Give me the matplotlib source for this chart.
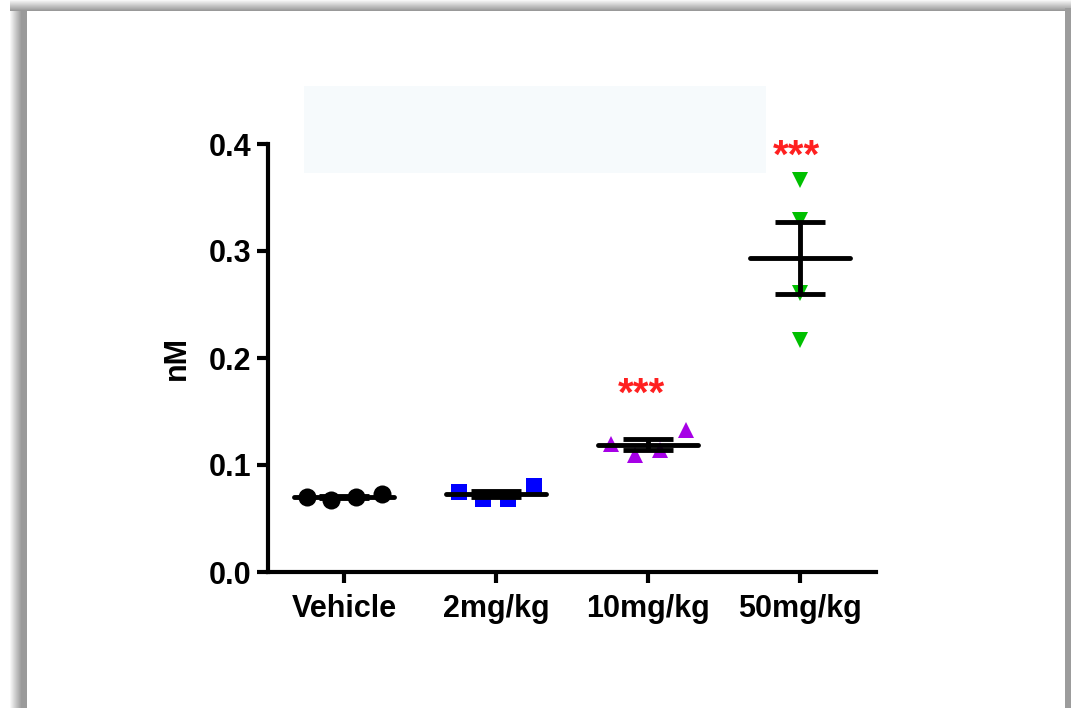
import matplotlib
matplotlib.use("Agg")
import matplotlib.pyplot as plt
import numpy as np
from matplotlib.patches import Rectangle

plt.rcParams["font.family"] = ["Liberation Sans", "DejaVu Sans"]
plt.rcParams["font.weight"] = "bold"

groups = ["Vehicle", "2mg/kg", "10mg/kg", "50mg/kg"]
vehicle = [0.070, 0.067, 0.070, 0.073]
mg2 = [0.075, 0.068, 0.068, 0.080]
mg10 = [0.120, 0.109, 0.114, 0.133]
mg50 = [0.366, 0.329, 0.261, 0.217]
values = [vehicle, mg2, mg10, mg50]
markers = ["o", "s", "^", "v"]
colors = ["#000000", "#0000ff", "#a600e6", "#00c000"]
msizes = [13, 11, 12, 12]
star_groups = [1.96, 2.98]
star_y = [0.166, 0.388]
yticks = [0.0, 0.1, 0.2, 0.3, 0.4]

W, H = 1071, 708
fig = plt.figure(figsize=(W / 100, H / 100), dpi=100)


def px_rect(x0, y0, x1, y1, color, z=0):
    # pixel box (top-left origin) -> figure patch
    r = Rectangle((x0 / W, 1 - y1 / H), (x1 - x0) / W, (y1 - y0) / H,
                  transform=fig.transFigure, facecolor=color, edgecolor="none",
                  zorder=z)
    fig.patches.append(r)


# window frame with soft shadow
for i in range(12):
    g = 1 - (i + 1) / 12 * 0.40
    px_rect(10 + i, 0, 11 + i, H, (g, g, g))
px_rect(21, 0, 27, H, "#9a9a9a")
for i in range(11):
    g = 1 - (i + 1) / 11 * 0.40
    px_rect(10, i, W, i + 1, (g, g, g))
px_rect(1065, 8, W, H, "#9c9c9c")

# faint panel behind the top of the plot
px_rect(304, 86, 766, 173, "#f6fafc", z=1)

ax = fig.add_axes([268 / W, (H - 572) / H, (876 - 268) / W, (572 - 144) / H])
ax.patch.set_alpha(0)

offsets = np.array([-0.245, -0.085, 0.08, 0.25])
for i, vals in enumerate(values):
    vals = np.array(vals)
    xs = i + (offsets if i < 3 else np.zeros(len(vals)))
    ax.plot(xs, vals, linestyle="none", marker=markers[i], color=colors[i],
            markersize=msizes[i], markeredgewidth=0, zorder=3)
    m = vals.mean()
    sem = vals.std(ddof=1) / np.sqrt(len(vals))
    ax.plot([i - 0.33, i + 0.33], [m, m], color="black", lw=3.5, zorder=4,
            solid_capstyle="round")
    ax.errorbar([i], [m], yerr=[sem], fmt="none", ecolor="black",
                elinewidth=3.5, capsize=18, capthick=3.5, zorder=4)

for g, y in zip(star_groups, star_y):
    ax.text(g, y, "***", color="#ff2020", ha="center", va="center",
            fontsize=29, fontweight="bold")

ax.set_xlim(-0.5, 3.5)
ax.set_ylim(0, 0.4)
ax.set_xticks(range(len(groups)))
ax.set_xticklabels(groups)
ax.set_yticks(yticks)
ax.set_yticklabels([f"{t:.1f}" for t in yticks])
ax.set_ylabel("nM", fontsize=22, fontweight="bold", labelpad=12)
ax.tick_params(axis="both", labelsize=22, width=3, length=8, pad=4)
ax.tick_params(axis="x", pad=8)
for s in ["top", "right"]:
    ax.spines[s].set_visible(False)
for s in ["left", "bottom"]:
    ax.spines[s].set_linewidth(3)
    ax.spines[s].set_zorder(5)

fig.savefig("out.png", dpi=100, facecolor="white")
